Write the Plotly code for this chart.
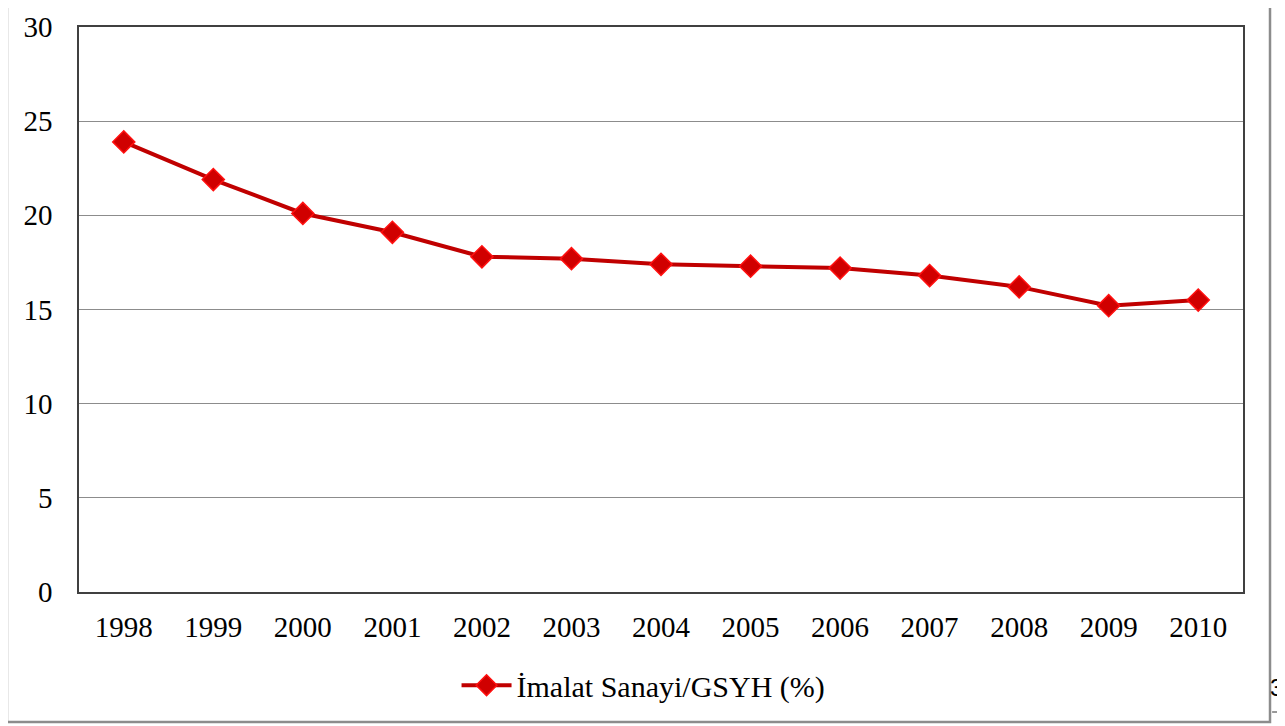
import plotly.graph_objects as go

years = ["1998", "1999", "2000", "2001", "2002", "2003", "2004",
         "2005", "2006", "2007", "2008", "2009", "2010"]
imalat_gsyh = [23.9, 21.9, 20.1, 19.1, 17.8, 17.7, 17.4,
               17.3, 17.2, 16.8, 16.2, 15.2, 15.5]
y_ticks = [0, 5, 10, 15, 20, 25, 30]
series_name = "İmalat Sanayi/GSYH (%)"

serif = "Liberation Serif, Times New Roman, serif"

fig = go.Figure()
fig.add_trace(go.Scatter(
    x=years, y=imalat_gsyh, name=series_name,
    mode="lines+markers",
    line=dict(color="#C00000", width=4),
    marker=dict(symbol="diamond", size=17, color="#D00000",
                line=dict(color="#FF1010", width=1.5)),
))

# the page keeps its 8px body margin, so the figure is 8px smaller
fig.update_layout(
    width=1277, height=718,
    margin=dict(l=71, r=42, t=19, b=134, autoexpand=False),
    paper_bgcolor="white", plot_bgcolor="white",
    font=dict(family=serif, size=29, color="black"),
    showlegend=True,
    legend=dict(orientation="h", x=0.485, xanchor="center",
                y=-0.165, yanchor="middle", itemwidth=50,
                font=dict(family=serif, size=30)),
    xaxis=dict(type="category", range=[-0.5, 12.5], automargin=False,
               showline=True, linecolor="#404040", linewidth=1.5,
               mirror=True, showgrid=False, ticks="",
               ticklabelstandoff=8),
    yaxis=dict(range=[0, 30], tickvals=y_ticks, automargin=False,
               showline=True, linecolor="#404040", linewidth=1.5,
               mirror=True, showgrid=True, gridcolor="#8C8C8C",
               gridwidth=1, zeroline=False, ticks="",
               ticklabelstandoff=19),
)

# outer chart frame
fig.add_shape(type="rect", xref="paper", yref="paper",
              x0=-0.0619, x1=1.0232, y0=-0.2301, y1=1.06,
              line=dict(color="#8C8C8C", width=2.5), layer="below")
# page edge bits on the right
fig.add_shape(type="line", xref="paper", yref="paper",
              x0=1.0250, x1=1.06, y0=-0.2124, y1=-0.2124,
              line=dict(color="#333333", width=1))
fig.add_annotation(text="3", xref="paper", yref="paper",
                   x=1.0361, y=-0.1699, xanchor="right", yanchor="middle",
                   showarrow=False,
                   font=dict(family="Liberation Sans, Arial, sans-serif",
                             size=24, color="black"))

fig.write_html("out.html")
